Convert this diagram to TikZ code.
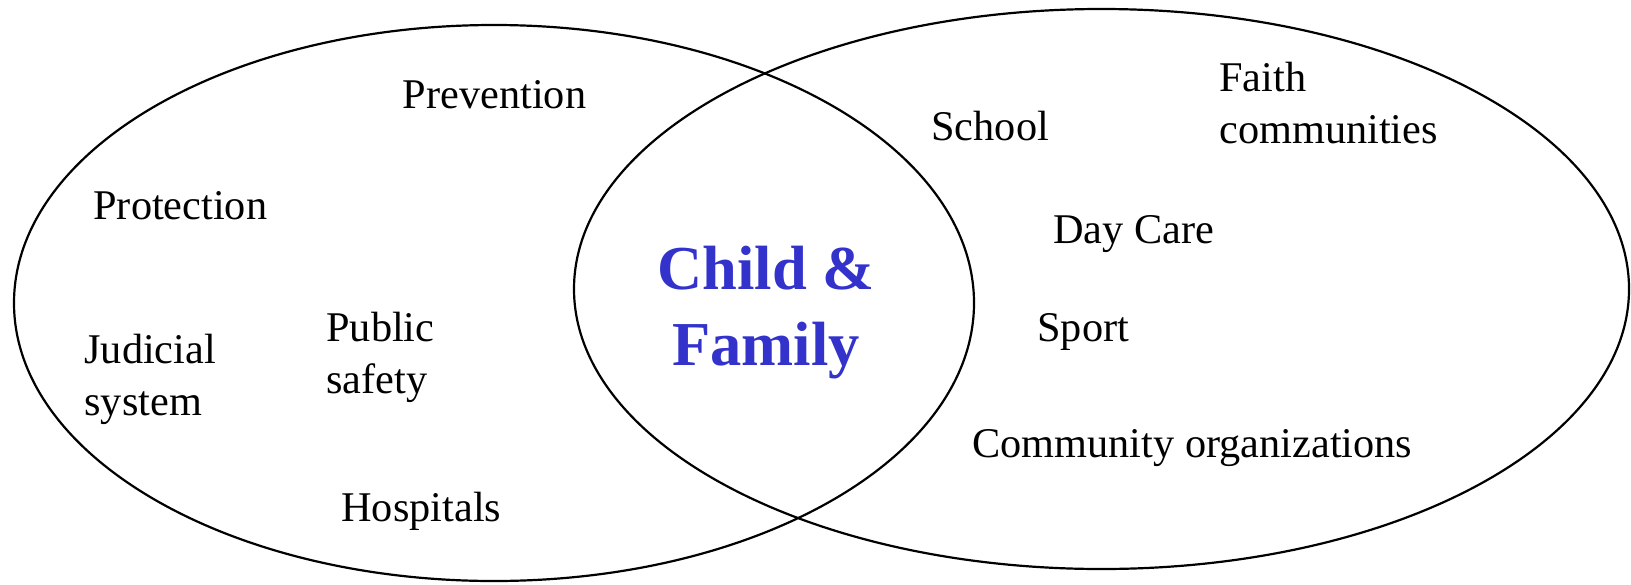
\documentclass[tikz,border=0pt]{standalone}
\usepackage{fontspec}
\setmainfont{Liberation Serif}
\definecolor{cfblue}{RGB}{51,51,204}
\begin{document}
\begin{tikzpicture}[x=0.5pt,y=-0.5pt,
  lbl/.style={anchor=base west,inner sep=0pt,align=left,font=\fontsize{21.15pt}{26pt}\selectfont},
  ring/.style={draw=black,line width=1.1pt},
  core/.style={inner sep=0pt,align=center,text=cfblue,font=\fontsize{31.25pt}{38.25pt}\selectfont\bfseries}]
\useasboundingbox (0,0) rectangle (1631,584);
\draw[ring] (494,303) ellipse [x radius=240pt,y radius=139pt];
\draw[ring] (1101.5,289) ellipse [x radius=263.75pt,y radius=140pt];
\node[lbl] (prev) at (402.5,108) {Prevention};
\node[lbl] (prot) at (93,219) {Protection};
\node[lbl] (jud) at (84,415) {Judicial\\system};
\node[lbl] (pub) at (326,393) {Public\\safety};
\node[lbl] (hosp) at (341,521) {Hospitals};
\node[lbl] (school) at (931,140) {School};
\node[lbl] (faith) at (1219,143) {Faith\\communities};
\node[lbl] (day) at (1053,243) {Day Care};
\node[lbl] (sport) at (1037,341) {Sport};
\node[lbl] (comm) at (972,457) {Community organizations};
\node[core,anchor=base] (cf) at (766,365.5) {Child \&\\Family};
\end{tikzpicture}
\end{document}
